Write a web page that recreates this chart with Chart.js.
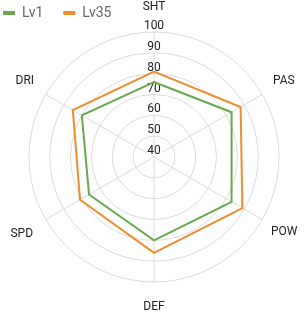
<!DOCTYPE html>
<html>
<head>
<meta charset="utf-8">
<script src="https://cdn.jsdelivr.net/npm/chart.js@4.4.0/dist/chart.umd.min.js"></script>
<style>
  html, body { margin: 0; padding: 0; background: #fff; }
  #wrap { width: 308px; height: 317px; }
</style>
</head>
<body>
<div id="wrap"><canvas id="chart"></canvas></div>
<script>
const categories = ['SHT', 'PAS', 'POW', 'DEF', 'SPD', 'DRI'];
const lv1Values = [76, 83, 83, 80, 76, 80];
const lv35Values = [81, 88, 89, 86, 81, 85];
const tickValues = [40, 50, 60, 70, 80, 90, 100];

const GREEN = '#6aa84f';
const ORANGE = '#ef8d2e';

// distance of each axis name from the outer ring
const labelGaps = [17.6, 12.4, 10, 17.6, 14.7, 13.5];

// legend sits over the chart instead of taking a row of its own
const legendOverlay = {
    id: 'legendOverlay',
    beforeUpdate(chart) {
        const lg = chart.legend;
        if (lg && !lg._noSpace) {
            const fit = lg.fit;
            lg.fit = function () {
                fit.call(this);
                this.height = 0;
            };
            const draw = lg.draw;
            lg.draw = function () {
                const b = this.bottom;
                this.bottom = this.top + 50;
                this.ctx.save();
                this.ctx.translate(-17, -15);
                draw.call(this);
                this.ctx.restore();
                this.bottom = b;
            };
            lg._noSpace = true;
        }
    }
};

// tick numbers drawn just above each ring, with a white backdrop
const tickLabels = {
    id: 'tickLabels',
    beforeDatasetsDraw(chart) {
        const scale = chart.scales.r;
        const ctx = chart.ctx;
        ctx.save();
        ctx.font = '12px Roboto';
        ctx.textAlign = 'center';
        ctx.textBaseline = 'middle';
        tickValues.forEach(v => {
            const y = scale.yCenter - scale.getDistanceFromCenterForValue(v) - 6;
            const text = String(v);
            const w = ctx.measureText(text).width;
            ctx.fillStyle = '#fff';
            ctx.fillRect(scale.xCenter - w / 2 - 1, y - 5, w + 2, 10);
            ctx.fillStyle = '#222';
            ctx.fillText(text, scale.xCenter, y);
        });
        ctx.restore();
    }
};

new Chart(document.getElementById('chart'), {
    type: 'radar',
    data: {
        labels: categories,
        datasets: [
            {
                label: 'Lv1',
                data: lv1Values,
                borderColor: GREEN,
                backgroundColor: GREEN,
                borderWidth: 2,
                pointRadius: 0,
                fill: false
            },
            {
                label: 'Lv35',
                data: lv35Values,
                borderColor: ORANGE,
                backgroundColor: ORANGE,
                borderWidth: 2,
                pointRadius: 0,
                fill: false
            }
        ]
    },
    options: {
        responsive: true,
        maintainAspectRatio: false,
        animation: false,
        layout: { padding: { top: 1, bottom: 2, left: 0, right: 0 } },
        plugins: {
            legend: {
                position: 'top',
                align: 'start',
                labels: {
                    boxWidth: 12,
                    boxHeight: 4,
                    padding: 20,
                    color: '#666',
                    font: { family: 'Roboto', size: 14 },
                    generateLabels(chart) {
                        const items = Chart.defaults.plugins.legend.labels.generateLabels(chart);
                        items.forEach(it => { it.lineWidth = 0; });
                        return items;
                    }
                }
            },
            tooltip: { enabled: false }
        },
        scales: {
            r: {
                min: 40,
                max: 100,
                ticks: { stepSize: 10, display: false },
                grid: { color: '#dcdcdc', lineWidth: 1, circular: true },
                angleLines: { color: '#dcdcdc', lineWidth: 1 },
                pointLabels: {
                    color: '#222',
                    padding: ctx => labelGaps[ctx.index],
                    font: { family: 'Roboto', size: 12 }
                }
            }
        }
    },
    plugins: [legendOverlay, tickLabels]
});
</script>
</body>
</html>
